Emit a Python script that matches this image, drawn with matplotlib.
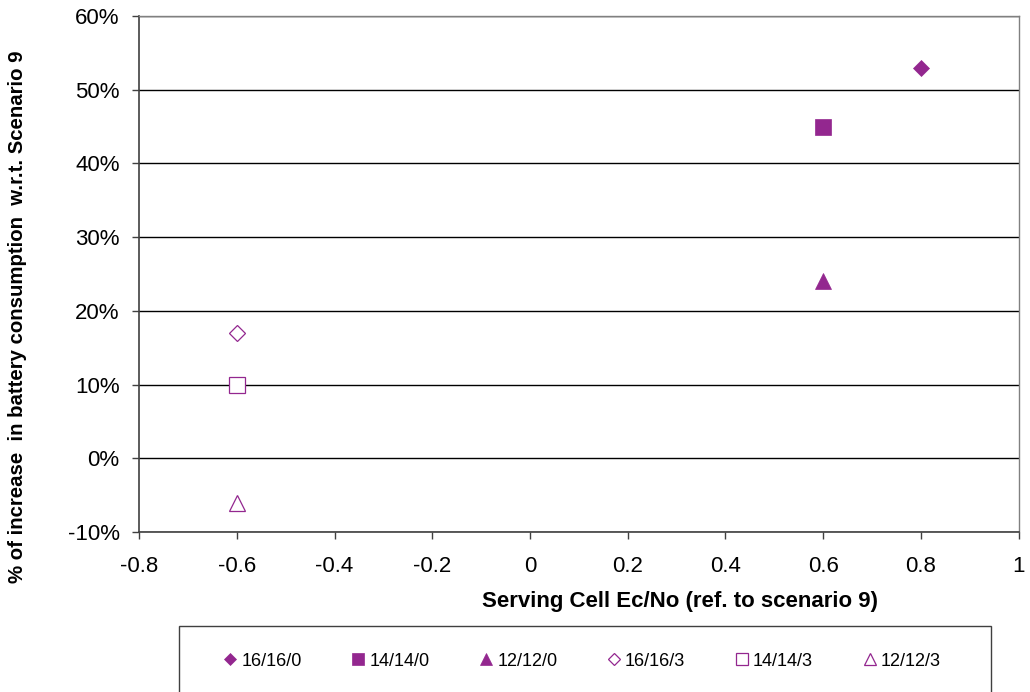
import matplotlib
matplotlib.use('Agg')
import matplotlib.pyplot as plt
from matplotlib.patches import Rectangle
from matplotlib.ticker import FuncFormatter

plt.rcParams['font.family'] = 'sans-serif'
plt.rcParams['font.sans-serif'] = ['Liberation Sans', 'DejaVu Sans']

# series: label, x, y (%)
labels = ['16/16/0', '14/14/0', '12/12/0', '16/16/3', '14/14/3', '12/12/3']
x_vals = [0.8, 0.6, 0.6, -0.6, -0.6, -0.6]
y_vals = [53, 45, 24, 17, 10, -6]
markers = ['D', 's', '^', 'D', 's', '^']
filled = [True, True, True, False, False, False]

purple = '#93278F'
msizes = {'D': 8.2, 's': 11.5, '^': 11.5}

fig = plt.figure(figsize=(10.3, 6.92), dpi=100)
ax = fig.add_axes([0.135, 0.231, 0.854, 0.746])

for lab, x, y, m, f in zip(labels, x_vals, y_vals, markers, filled):
    ax.plot([x], [y], linestyle='none', marker=m, markersize=msizes[m],
            markerfacecolor=purple if f else 'white', markeredgecolor=purple,
            markeredgewidth=0.9 if not f else 0.5, label=lab, zorder=3)

ax.set_xlim(-0.8, 1.0)
ax.set_ylim(-10, 60)
ax.set_xticks([-0.8, -0.6, -0.4, -0.2, 0, 0.2, 0.4, 0.6, 0.8, 1.0])
ax.set_yticks(range(-10, 61, 10))
ax.xaxis.set_major_formatter(FuncFormatter(lambda v, p: '%g' % round(v, 1)))
ax.yaxis.set_major_formatter(FuncFormatter(lambda v, p: '%d%%' % v))
ax.tick_params(labelsize=16, length=5, width=1, color='#404040', direction='out')
ax.tick_params(axis='x', pad=12)
ax.tick_params(axis='y', pad=9)
ax.yaxis.grid(True, color='black', linewidth=1)
ax.set_axisbelow(True)

for s in ['top', 'right']:
    ax.spines[s].set_color('#808080')
    ax.spines[s].set_linewidth(1)
for s in ['left', 'bottom']:
    ax.spines[s].set_color('#404040')
    ax.spines[s].set_linewidth(1.2)

ax.set_xlabel('Serving Cell Ec/No (ref. to scenario 9)', fontsize=16, fontweight='bold')
ax.xaxis.label.set_va('center')
ax.xaxis.set_label_coords((680 - 139) / 880, (532 - 601) / 516)
ax.set_ylabel('% of increase  in battery consumption  w.r.t. Scenario 9', fontsize=14.7, fontweight='bold')
ax.yaxis.label.set_va('center')
ax.yaxis.set_label_coords((17 - 139) / 880, (532 - 317) / 516)

# legend box
fig.patches.append(Rectangle((179 / 1030, -0.02), 812 / 1030, 0.02 + 66 / 692, transform=fig.transFigure,
                             facecolor='white', edgecolor='#404040', linewidth=1))
leg = fig.legend(loc='center', bbox_to_anchor=(581 / 1030, 1 - 661 / 692), ncol=6, frameon=False,
                 fontsize=13, handletextpad=0.1, columnspacing=2.65, handlelength=1.0,
                 markerscale=0.8)

fig.savefig('out.png', dpi=100)
